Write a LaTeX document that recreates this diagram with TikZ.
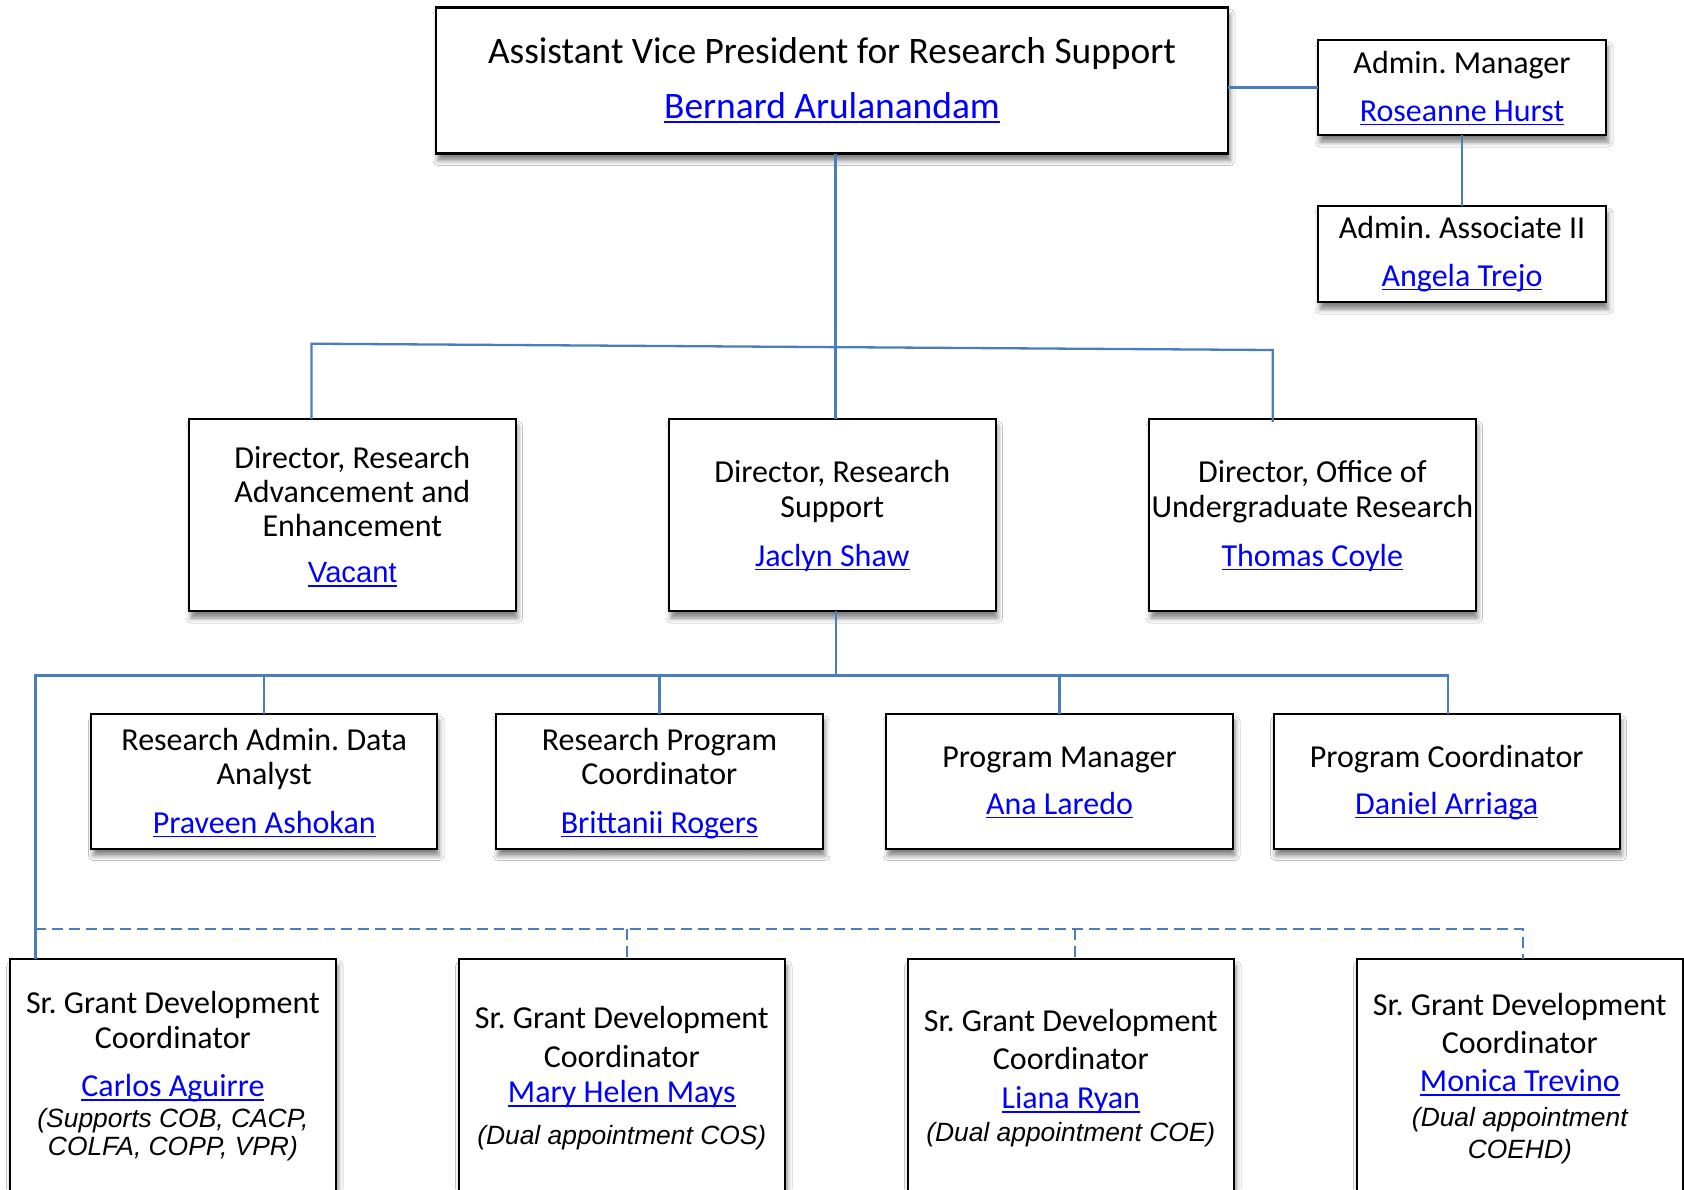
\documentclass[tikz,border=0pt]{standalone}
\usepackage{fontspec}
\setmainfont{Carlito}
\newfontfamily\arialf{Liberation Sans}
\usetikzlibrary{shadows,shadows.blur}
\definecolor{conn}{HTML}{4A7EBB}
\definecolor{linkblue}{RGB}{0,0,255}
\newcommand\ulink[1]{\begingroup\color{linkblue}\setbox0=\hbox{#1}\rlap{\rule[-0.14em]{\wd0}{0.06em}}\box0\endgroup}
\frenchspacing
\begin{document}
\begin{tikzpicture}[x=0.5pt,y=-0.5pt,
 box/.style={draw=black, line width=1.1pt, fill=white, inner sep=0pt, outer sep=0pt,
   blur shadow={shadow xshift=1pt, shadow yshift=-3.5pt, shadow blur radius=2.5pt, shadow opacity=50}},
 dbox/.style={box, minimum width=163.3pt, minimum height=96pt},
 sbox/.style={box, minimum height=67.3pt},
 gbox/.style={box, minimum width=163.2pt, minimum height=200pt},
 ln/.style={draw=conn, line width=1.15pt},
 dln/.style={ln, dash pattern=on 5.5pt off 3pt},
 tx/.style={anchor=base, inner sep=0pt, font=\fontsize{16}{19}\selectfont},
 tt/.style={tx, font=\fontsize{18.7}{22}\selectfont},
 ar/.style={tx, font=\arialf\fontsize{14.6}{17}\selectfont},
 it/.style={tx, font=\arialf\itshape\fontsize{13.2}{16}\selectfont}]
\fill[white] (0,0) rectangle (1684,1189);
\path[use as bounding box] (0,0) rectangle (1684,1189);

% junction points of the connectors
\coordinate (j1) at (311.5,343.7);
\coordinate (j2) at (1272.7,350);
\coordinate (busL) at (35.4,675.5);
\coordinate (busR) at (1447.8,675.5);
\coordinate (dL) at (35.4,929);
\coordinate (dR) at (1523,929);
\coordinate (dm2) at (627,929);
\coordinate (dm3) at (1075,929);

% boxes
\node[box, minimum width=396pt, minimum height=73pt] (top) at (832,80.5) {};
\node[box, minimum width=144pt, minimum height=47.5pt] (am) at (1462,87.5) {};
\node[box, minimum width=144pt, minimum height=48pt] (aa) at (1462,254) {};
\node[dbox] (d1) at (352.3,515) {};
\node[dbox] (d2) at (832.3,515) {};
\node[dbox] (d3) at (1312.3,515) {};
\node[sbox, minimum width=172.9pt] (s1) at (264.2,781.3) {};
\node[sbox, minimum width=163.4pt] (s2) at (659.4,781.3) {};
\node[sbox, minimum width=173.5pt] (s3) at (1059.5,781.3) {};
\node[sbox, minimum width=173pt] (s4) at (1446.7,781.3) {};
\node[gbox] (g1) at (172.9,1159) {};
\node[gbox] (g2) at (621.8,1159) {};
\node[gbox] (g3) at (1070.8,1159) {};
\node[gbox] (g4) at (1519.8,1159) {};

% connectors
\draw[ln] (am.west) -- (am.west -| top.east);
\draw[ln] (am.south) -- (aa.north);
\draw[ln] ([xshift=1.8pt]top.south) -- ([xshift=1.8pt]top.south |- d2.north);
\draw[ln] (d1.north -| j1) -- (j1) -- (j2) -- ([yshift=-1.5pt]d3.north -| j2);
\draw[ln] ([xshift=1.8pt]d2.south) -- ([xshift=1.8pt]d2.south |- busL);
\draw[ln] (g1.north -| busL) -- (busL) -- (busR) -- (busR |- s4.north);
\draw[ln] (s1.north |- busL) -- (s1.north);
\draw[ln] (s2.north |- busL) -- (s2.north);
\draw[ln] (s3.north |- busL) -- (s3.north);
\draw[dln] (dL) -- (dR) -- (dR |- g4.north);
\draw[dln] (dm2) -- (dm2 |- g2.north);
\draw[dln] (dm3) -- (dm3 |- g3.north);

% texts
\node[tt] (t1) at (832,63) {Assistant Vice President for Research Support};
\node[tt] (t2) at (832,118) {\ulink{Bernard Arulanandam}};
\node[tx] (am1) at (1462,73) {Admin. Manager};
\node[tx] (am2) at (1462,121) {\ulink{Roseanne Hurst}};
\node[tx] (aa1) at (1462,238.5) {Admin. Associate II};
\node[tx] (aa2) at (1462,286) {\ulink{Angela Trejo}};

\node[tx] (d1a) at (352.3,468) {Director, Research};
\node[tx] (d1b) at (352.3,502) {Advancement and};
\node[tx] (d1c) at (352.3,536) {Enhancement};
\node[ar] (d1d) at (352.3,582.5) {\ulink{Vacant}};
\node[tx] (d2a) at (832.3,482.6) {Director, Research};
\node[tx] (d2b) at (832.3,517.5) {Support};
\node[tx] (d2c) at (832.3,566) {\ulink{Jaclyn Shaw}};
\node[tx] (d3a) at (1312.3,482.6) {Director, Office of};
\node[tx] (d3b) at (1312.3,517.5) {Undergraduate Research};
\node[tx] (d3c) at (1312.3,566) {\ulink{Thomas Coyle}};

\node[tx] (s1a) at (264.2,750) {Research Admin. Data};
\node[tx] (s1b) at (264.2,784.5) {Analyst};
\node[tx] (s1c) at (264.2,833) {\ulink{Praveen Ashokan}};
\node[tx] (s2a) at (659.4,750) {Research Program};
\node[tx] (s2b) at (659.4,784.5) {Coordinator};
\node[tx] (s2c) at (659.4,833) {\ulink{Brittanii Rogers}};
\node[tx] (s3a) at (1059.5,767) {Program Manager};
\node[tx] (s3b) at (1059.5,814) {\ulink{Ana Laredo}};
\node[tx] (s4a) at (1446.7,767) {Program Coordinator};
\node[tx] (s4b) at (1446.7,814) {\ulink{Daniel Arriaga}};

\node[tx] (g1a) at (172.9,1013.3) {Sr. Grant Development};
\node[tx] (g1b) at (172.9,1048.3) {Coordinator};
\node[tx] (g1c) at (172.9,1096.7) {\ulink{Carlos Aguirre}};
\node[it] (g1d) at (172.9,1127.3) {(Supports COB, CACP,};
\node[it] (g1e) at (172.9,1155.7) {COLFA, COPP, VPR)};
\node[tx] (g2a) at (621.8,1028) {Sr. Grant Development};
\node[tx] (g2b) at (621.8,1067) {Coordinator};
\node[tx] (g2c) at (621.8,1102) {\ulink{Mary Helen Mays}};
\node[it] (g2d) at (621.8,1144) {(Dual appointment COS)};
\node[tx] (g3a) at (1070.8,1031) {Sr. Grant Development};
\node[tx] (g3b) at (1070.8,1069) {Coordinator};
\node[tx] (g3c) at (1070.8,1108.6) {\ulink{Liana Ryan}};
\node[it] (g3d) at (1070.8,1141) {(Dual appointment COE)};
\node[tx] (g4a) at (1519.8,1015) {Sr. Grant Development};
\node[tx] (g4b) at (1519.8,1053.3) {Coordinator};
\node[tx] (g4c) at (1519.8,1091.7) {\ulink{Monica Trevino}};
\node[it] (g4d) at (1519.8,1126.7) {(Dual appointment};
\node[it] (g4e) at (1519.8,1158.3) {COEHD)};
\end{tikzpicture}
\end{document}
